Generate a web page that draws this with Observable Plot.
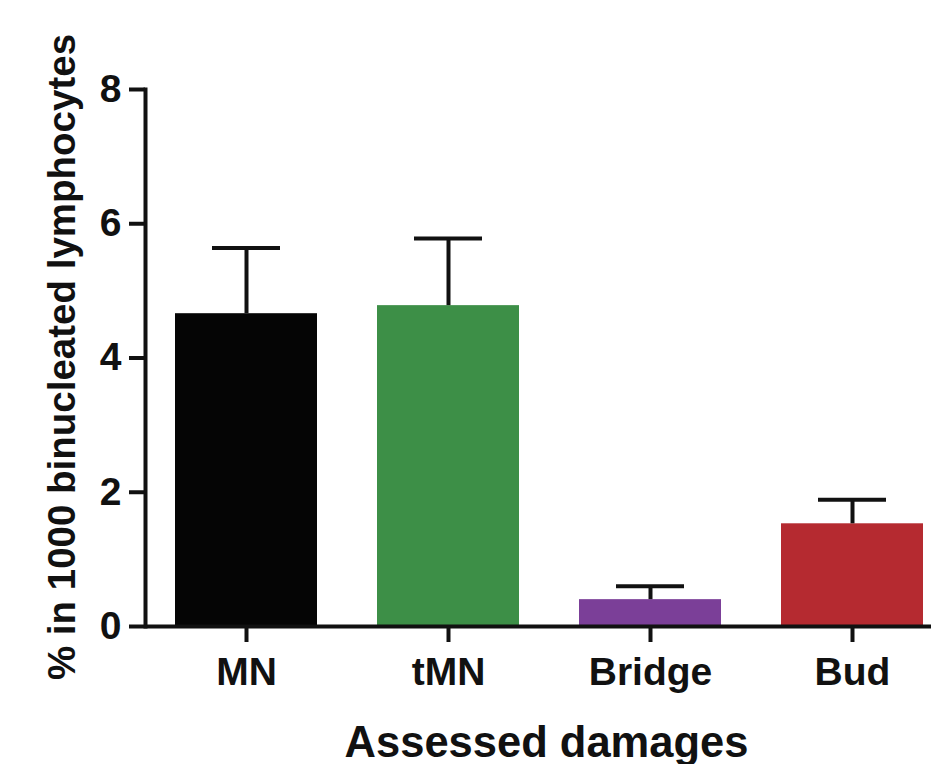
<!DOCTYPE html>
<html>
<head>
<meta charset="utf-8">
<script src="https://cdn.jsdelivr.net/npm/d3@7"></script>
<script src="https://cdn.jsdelivr.net/npm/@observablehq/plot@0.6"></script>
<style>
  html, body { margin: 0; padding: 0; background: #fff; }
</style>
</head>
<body>
<div id="chart"></div>
<script>
const categories = ["MN", "tMN", "Bridge", "Bud"];
const means = [4.66, 4.78, 0.40, 1.53];
const errors = [0.98, 1.00, 0.20, 0.36];
const colors = ["#050505", "#3d8f47", "#7b3f98", "#b52a30"];
const yTicks = [0, 2, 4, 6, 8];
const yLabel = "% in 1000 binucleated lymphocytes";
const xLabel = "Assessed damages";

const data = categories.map((c, i) => ({cat: c, mean: means[i], hi: means[i] + errors[i]}));

const font = "'Liberation Sans', Arial, Helvetica, sans-serif";

const chart = Plot.plot({
  width: 931,
  height: 764,
  marginLeft: 145,
  marginRight: 0,
  marginTop: 89,
  marginBottom: 138,
  style: {fontFamily: font, fontWeight: "bold", color: "#111", background: "#fff"},
  x: {domain: categories, paddingInner: 0.297, paddingOuter: 0.094, align: 0.79},
  y: {domain: [0, 8]},
  color: {domain: categories, range: colors},
  marks: [
    Plot.barY(data, {x: "cat", y: "mean", fill: "cat"}),
    Plot.ruleX(data, {x: "cat", y1: "mean", y2: "hi", stroke: "#111", strokeWidth: 4}),
    Plot.tickY(data, {x: "cat", y: "hi", stroke: "#111", strokeWidth: 4, insetLeft: 37, insetRight: 37}),
    Plot.ruleY([0], {stroke: "#111", strokeWidth: 4}),
    Plot.frame({anchor: "left", stroke: "#111", strokeWidth: 4}),
    Plot.axisY({ticks: yTicks, tickSize: 16, tickPadding: 8, strokeWidth: 4, fontSize: 39, label: null, tickFormat: d => String(d)}),
    Plot.axisX({tickSize: 16, tickPadding: 15, strokeWidth: 4, fontSize: 39, label: null}),
    Plot.text([yLabel], {frameAnchor: "left", dx: -83, dy: -1, rotate: -90, textAnchor: "middle", fontSize: 38.5, fontWeight: "bold", fill: "#111"}),
    Plot.text([xLabel], {frameAnchor: "bottom", dx: 8, dy: 130, fontSize: 43.5, fontWeight: "bold", fill: "#111"})
  ]
});
document.getElementById("chart").appendChild(chart);
</script>
</body>
</html>
